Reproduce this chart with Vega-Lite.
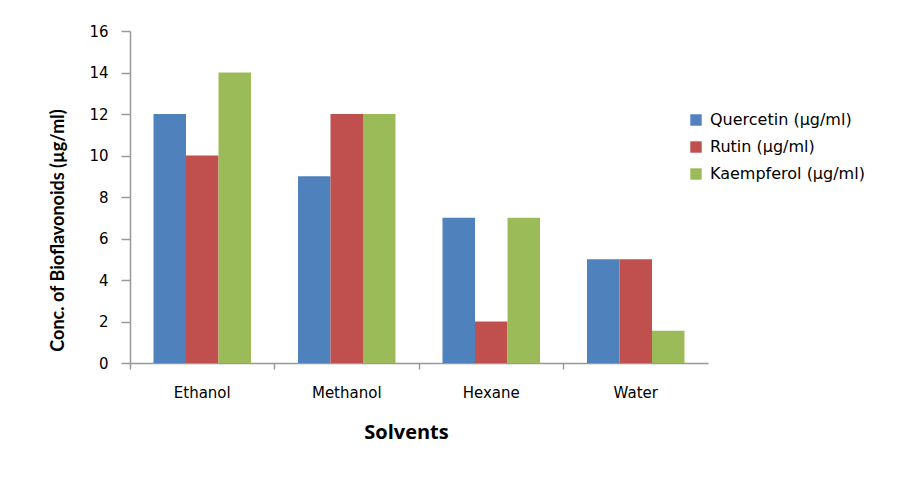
{
  "$schema": "https://vega.github.io/schema/vega-lite/v6.json",
  "width": 578,
  "height": 332,
  "autosize": "none",
  "padding": {"left": 130, "top": 31, "right": 191, "bottom": 116},
  "background": "white",
  "data": {
    "values": [
      {"solvent": "Ethanol", "compound": "Quercetin (µg/ml)", "value": 12},
      {"solvent": "Ethanol", "compound": "Rutin (µg/ml)", "value": 10},
      {"solvent": "Ethanol", "compound": "Kaempferol (µg/ml)", "value": 14},
      {"solvent": "Methanol", "compound": "Quercetin (µg/ml)", "value": 9},
      {"solvent": "Methanol", "compound": "Rutin (µg/ml)", "value": 12},
      {"solvent": "Methanol", "compound": "Kaempferol (µg/ml)", "value": 12},
      {"solvent": "Hexane", "compound": "Quercetin (µg/ml)", "value": 7},
      {"solvent": "Hexane", "compound": "Rutin (µg/ml)", "value": 2},
      {"solvent": "Hexane", "compound": "Kaempferol (µg/ml)", "value": 7},
      {"solvent": "Water", "compound": "Quercetin (µg/ml)", "value": 5},
      {"solvent": "Water", "compound": "Rutin (µg/ml)", "value": 5},
      {"solvent": "Water", "compound": "Kaempferol (µg/ml)", "value": 1.55}
    ]
  },
  "mark": {"type": "bar"},
  "encoding": {
    "x": {
      "field": "solvent",
      "type": "nominal",
      "sort": ["Ethanol", "Methanol", "Hexane", "Water"],
      "scale": {"paddingInner": 0, "paddingOuter": 0},
      "axis": {
        "title": "Solvents",
        "titleFont": "Open Sans",
        "titleFontWeight": "bold",
        "titleFontSize": 20,
        "titleColor": "#000000",
        "titlePadding": 22,
        "titleX": 276,
        "labelAngle": 0,
        "labelFont": "DejaVu Sans",
        "labelFontSize": 15,
        "labelColor": "#000000",
        "labelPadding": 16,
        "bandPosition": 0,
        "labelOffset": 0,
        "labelBound": false,
        "labelOverlap": false,
        "tickSize": 6,
        "tickColor": "#999999",
        "domainColor": "#999999",
        "domainWidth": 1.5,
        "tickWidth": 1.5
      }
    },
    "xOffset": {
      "field": "compound",
      "type": "nominal",
      "sort": ["Quercetin (µg/ml)", "Rutin (µg/ml)", "Kaempferol (µg/ml)"],
      "scale": {"paddingInner": 0, "paddingOuter": 0.723}
    },
    "y": {
      "field": "value",
      "type": "quantitative",
      "scale": {"domain": [0, 16], "nice": false},
      "axis": {
        "title": "Conc. of Bioflavonoids (µg/ml)",
        "titleFont": "Lato",
        "titleFontWeight": "bold",
        "titleFontSize": 18,
        "titleColor": "#000000",
        "titlePadding": 21,
        "titleY": 199,
        "values": [0, 2, 4, 6, 8, 10, 12, 14, 16],
        "grid": false,
        "labelFont": "DejaVu Sans",
        "labelFontSize": 15,
        "labelColor": "#000000",
        "labelPadding": 13,
        "tickSize": 9,
        "tickColor": "#999999",
        "domainColor": "#999999",
        "domainWidth": 1.5,
        "tickWidth": 1.5
      }
    },
    "color": {
      "field": "compound",
      "type": "nominal",
      "sort": ["Quercetin (µg/ml)", "Rutin (µg/ml)", "Kaempferol (µg/ml)"],
      "scale": {"range": ["#4F81BD", "#C0504D", "#9BBB59"]},
      "legend": {
        "title": null,
        "orient": "none",
        "legendX": 558,
        "legendY": 81,
        "symbolType": "square",
        "symbolSize": 130,
        "symbolStrokeWidth": 0,
        "labelFont": "DejaVu Sans",
        "labelFontSize": 16,
        "labelColor": "#000000",
        "labelLimit": 300,
        "rowPadding": 11,
        "labelOffset": 6
      }
    }
  },
  "config": {"view": {"stroke": null}}
}
